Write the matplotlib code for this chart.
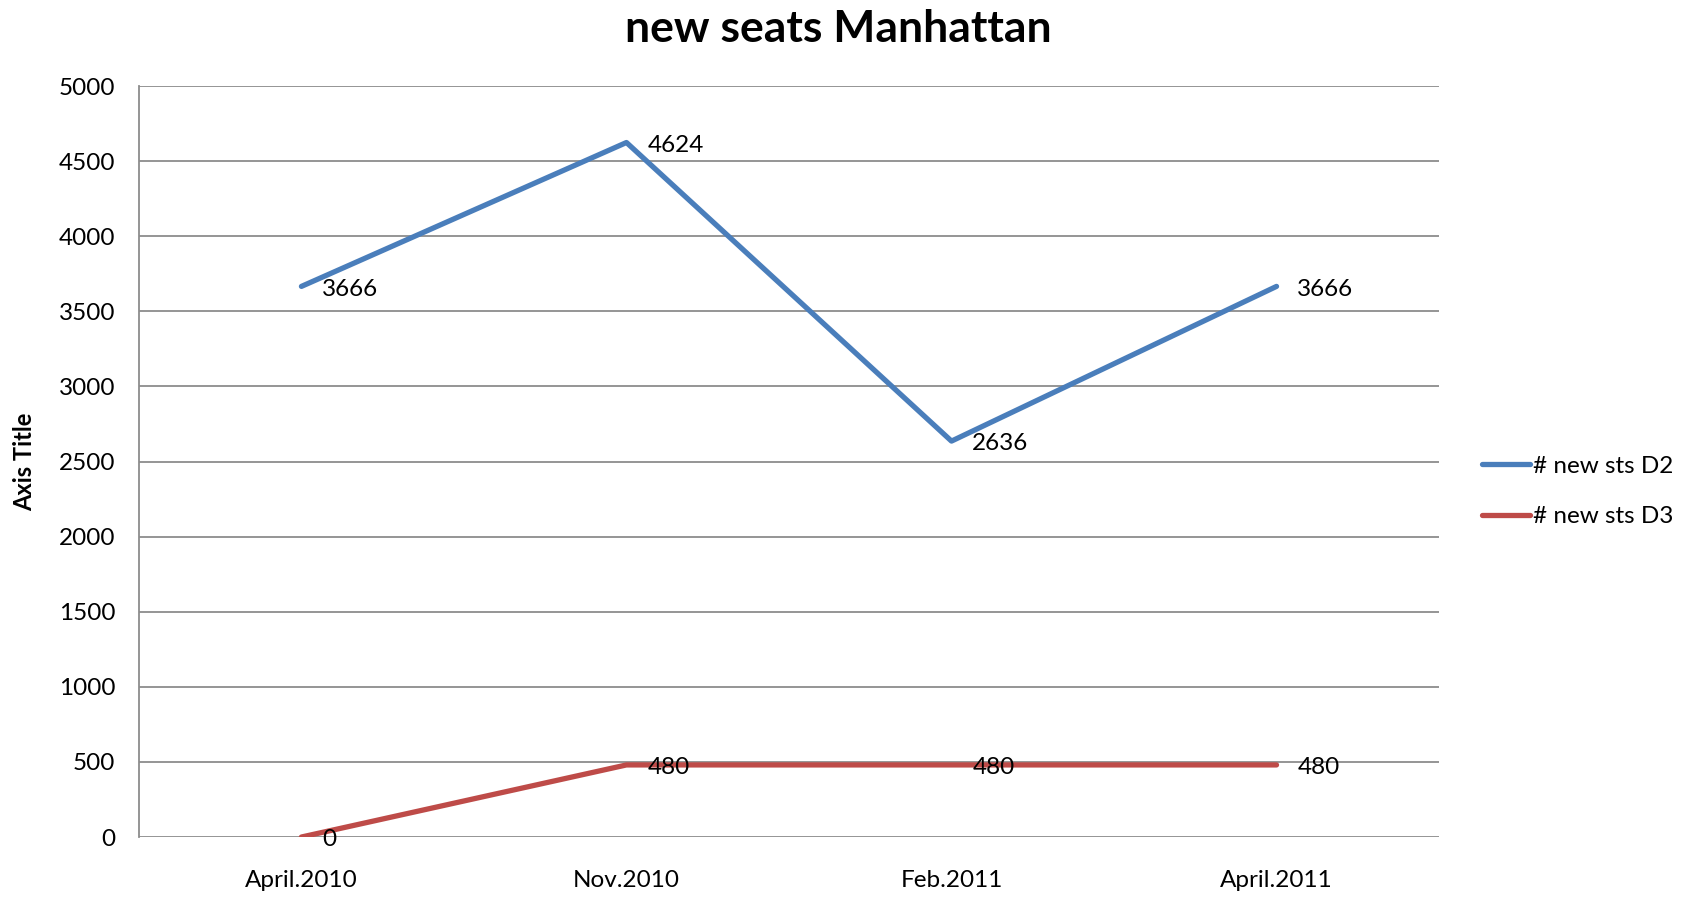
import matplotlib.pyplot as plt
import numpy as np

plt.rcParams['font.family'] = ['Lato', 'DejaVu Sans']

months = ['April.2010', 'Nov.2010', 'Feb.2011', 'April.2011']
sts_d2 = [3666, 4624, 2636, 3666]
sts_d3 = [0, 480, 480, 480]
yticks = np.arange(0, 5001, 500)

blue = '#4A7EBB'
red = '#BE4B48'
grid_col = '#8C8C8C'

fig = plt.figure(figsize=(16.9, 8.98), dpi=100)
ax = fig.add_axes([0.0822, 0.0679, 0.7693, 0.8363])

x = np.arange(len(months))
ax.plot(x, sts_d2, color=blue, linewidth=3.8, solid_capstyle='round', label='# new sts D2')
ax.plot(x, sts_d3, color=red, linewidth=3.8, solid_capstyle='round', label='# new sts D3')

for xi, v in zip(x, sts_d2):
    ax.annotate(str(v), (xi, v), xytext=(15, -2), textcoords='offset points',
                ha='left', va='center', fontsize=17.5)
for xi, v in zip(x, sts_d3):
    ax.annotate(str(v), (xi, v), xytext=(15, -2), textcoords='offset points',
                ha='left', va='center', fontsize=17.5)

ax.set_xlim(-0.5, len(months) - 0.5)
ax.set_ylim(0, 5000)
ax.set_yticks(yticks)
ax.set_xticks(x)
ax.set_xticklabels(months)
ax.yaxis.grid(True, color=grid_col, linewidth=1.3)
ax.set_axisbelow(True)
for s in ['top', 'right', 'bottom']:
    ax.spines[s].set_visible(False)
ax.spines['left'].set_color(grid_col)
ax.spines['left'].set_linewidth(1.3)
ax.tick_params(axis='y', length=0, pad=17, labelsize=17.5)
ax.tick_params(axis='x', length=0, pad=24, labelsize=17.5)

ax.set_ylabel('Axis Title', fontsize=17, fontweight='bold', labelpad=16)
fig.suptitle('new seats Manhattan', fontsize=32, fontweight='bold', x=0.496, y=0.99, va='top')

ax.legend(loc='center left', bbox_to_anchor=(1.016, 0.46), frameon=False,
          fontsize=17.5, handlelength=2.0, handletextpad=0.1, labelspacing=1.2)

fig.savefig('out.png', dpi=100)
